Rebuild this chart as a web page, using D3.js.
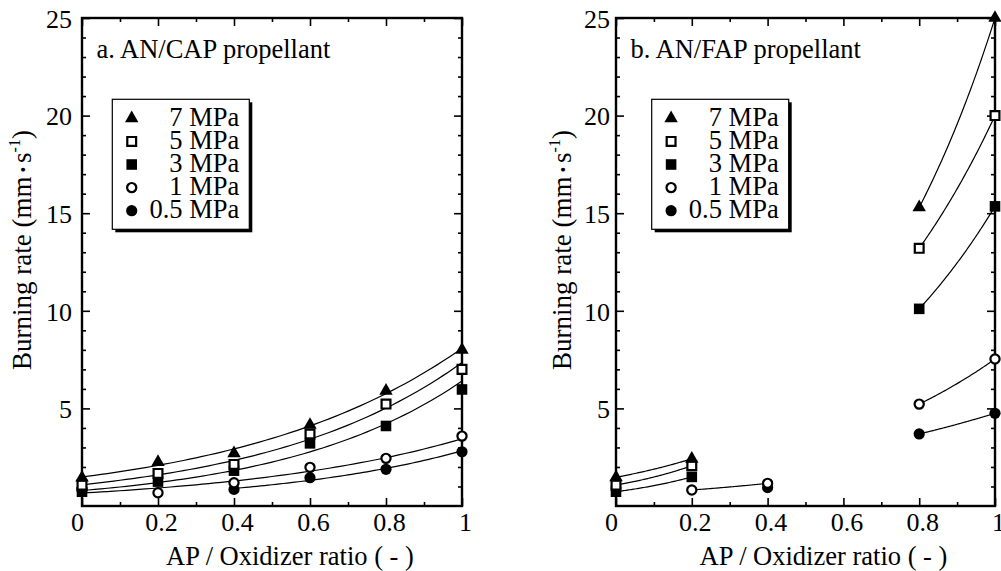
<!DOCTYPE html>
<html>
<head>
<meta charset="utf-8">
<script src="https://cdn.jsdelivr.net/npm/d3@7"></script>
<style>
  html, body { margin: 0; padding: 0; background: #fff; }
  svg { display: block; }
  text { font-family: "Liberation Serif", "Times New Roman", serif; fill: #000; }
</style>
</head>
<body>
<svg id="chart" width="1001" height="571"></svg>
<script>
// AP / oxidizer ratio at which burning rates were measured
const ratios = [0, 0.2, 0.4, 0.6, 0.8, 1.0];

// Pressure levels and their marker styles
const pressures = ["7 MPa", "5 MPa", "3 MPa", "1 MPa", "0.5 MPa"];
const markers = ["triangle", "openSquare", "square", "openCircle", "circle"];

// Burning rate (mm/s), AN/CAP propellant
const cap7 = [1.45, 2.25, 2.7, 4.15, 5.9, 8.0];
const cap5 = [1.07, 1.67, 2.13, 3.69, 5.22, 7.0];
const cap3 = [0.73, 1.25, 1.81, 3.21, 4.1, 5.97];
const cap1 = [0.85, 0.68, 1.19, 1.98, 2.44, 3.58];
const cap05 = [null, null, 0.85, 1.45, 1.88, 2.78];

// Burning rate (mm/s), AN/FAP propellant
const fap7 = [1.47, 2.42, null, null, 15.3, 25.0];
const fap5 = [1.07, 2.06, null, null, 13.2, 20.0];
const fap3 = [0.73, 1.49, null, null, 10.1, 15.35];
const fap1 = [null, 0.82, 1.16, null, 5.22, 7.53];
const fap05 = [null, null, 0.94, null, 3.69, 4.75];

// Axis ticks
const xMajor = [0, 0.2, 0.4, 0.6, 0.8, 1];
const xMinor = [0.1, 0.3, 0.5, 0.7, 0.9];
const yMajor = [5, 10, 15, 20, 25];
const yLabelled = [5, 10, 15, 20, 25];
const yMinor = d3.range(1, 25).filter(v => v % 5 !== 0);

const xTitle = "AP / Oxidizer ratio ( - )";

const panels = [
  {
    title: "a. AN/CAP propellant",
    series: [cap7, cap5, cap3, cap1, cap05],
    left: 82, right: 462, top: 18, bottom: 506,
    yLabelPad: 10, yTitleX: 30.7,
    legend: { x: 112.3, y: 99.3, w: 137, h: 130 }
  },
  {
    title: "b. AN/FAP propellant",
    series: [fap7, fap5, fap3, fap1, fap05],
    left: 616, right: 995, top: 18, bottom: 506,
    yLabelPad: 6, yTitleX: 570.7,
    legend: { x: 651.7, y: 99.3, w: 137, h: 130 }
  }
];

const svg = d3.select("#chart");

// Marker shapes
function drawMarker(sel, kind) {
  const sym = d3.symbol();
  if (kind === "triangle") {
    sel.append("path").attr("d", sym.type(d3.symbolTriangle).size(78)()).attr("fill", "#000");
  } else if (kind === "square") {
    sel.append("path").attr("d", sym.type(d3.symbolSquare).size(112)()).attr("fill", "#000");
  } else if (kind === "openSquare") {
    sel.append("path").attr("d", sym.type(d3.symbolSquare).size(78)())
      .attr("fill", "#fff").attr("stroke", "#000").attr("stroke-width", 2.2);
  } else if (kind === "circle") {
    sel.append("circle").attr("r", 5.6).attr("fill", "#000");
  } else if (kind === "openCircle") {
    sel.append("circle").attr("r", 4.6).attr("fill", "#fff")
      .attr("stroke", "#000").attr("stroke-width", 2.2);
  }
}

// Split a series into runs of consecutive measured points
function segments(values) {
  const out = [];
  let cur = [];
  values.forEach((v, i) => {
    if (v == null) { if (cur.length) out.push(cur); cur = []; }
    else cur.push([ratios[i], v]);
  });
  if (cur.length) out.push(cur);
  return out;
}

// Least-squares exponential fit r = a*exp(b*x) over a run of points
function expFit(pts) {
  const n = pts.length;
  const mx = d3.mean(pts, p => p[0]);
  const my = d3.mean(pts, p => Math.log(p[1]));
  let sxy = 0, sxx = 0;
  pts.forEach(p => { sxy += (p[0] - mx) * (Math.log(p[1]) - my); sxx += (p[0] - mx) ** 2; });
  const b = sxx > 0 ? sxy / sxx : 0;
  const lnA = my - b * mx;
  return x => Math.exp(lnA + b * x);
}

panels.forEach(p => {
  const x = d3.scaleLinear().domain([0, 1]).range([p.left, p.right]);
  const y = d3.scaleLinear().domain([0, 25]).range([p.bottom, p.top]);
  const g = svg.append("g");

  // Ticks on all four sides, pointing inward
  const tickStyle = s => {
    s.select(".domain").remove();
    s.selectAll(".tick line").attr("stroke", "#000").attr("stroke-width", 1.6);
  };

  const bottomAxis = g.append("g").attr("transform", `translate(0,${p.bottom})`)
    .call(d3.axisBottom(x).tickValues(xMajor).tickSize(-8).tickPadding(7)
      .tickFormat(d => String(d)))
    .call(tickStyle);
  bottomAxis.selectAll(".tick text")
    .attr("font-size", 26)
    .attr("dx", d => d === 0 ? -5 : 3);
  g.append("g").attr("transform", `translate(0,${p.bottom})`)
    .call(d3.axisBottom(x).tickValues(xMinor).tickSize(-4).tickFormat("")).call(tickStyle);

  g.append("g").attr("transform", `translate(0,${p.top})`)
    .call(d3.axisTop(x).tickValues(xMajor).tickSize(-8).tickFormat("")).call(tickStyle);
  g.append("g").attr("transform", `translate(0,${p.top})`)
    .call(d3.axisTop(x).tickValues(xMinor).tickSize(-4).tickFormat("")).call(tickStyle);

  const leftAxis = g.append("g").attr("transform", `translate(${p.left},0)`)
    .call(d3.axisLeft(y).tickValues(yLabelled).tickSize(-8).tickPadding(p.yLabelPad)
      .tickFormat(d => String(d)))
    .call(tickStyle);
  leftAxis.selectAll(".tick text").attr("font-size", 26).attr("dy", "0.36em");
  g.append("g").attr("transform", `translate(${p.left},0)`)
    .call(d3.axisLeft(y).tickValues(yMinor).tickSize(-4).tickFormat("")).call(tickStyle);

  g.append("g").attr("transform", `translate(${p.right},0)`)
    .call(d3.axisRight(y).tickValues(yMajor).tickSize(-8).tickFormat("")).call(tickStyle);
  g.append("g").attr("transform", `translate(${p.right},0)`)
    .call(d3.axisRight(y).tickValues(yMinor).tickSize(-4).tickFormat("")).call(tickStyle);

  // Plot frame
  g.append("rect")
    .attr("x", p.left).attr("y", p.top)
    .attr("width", p.right - p.left).attr("height", p.bottom - p.top)
    .attr("fill", "none").attr("stroke", "#000").attr("stroke-width", 2.4);

  // Axis titles
  g.append("text")
    .attr("x", (p.left + p.right) / 2 + 18).attr("y", 565)
    .attr("text-anchor", "middle").attr("font-size", 26.5)
    .text(xTitle);

  const yt = g.append("text")
    .attr("transform", `translate(${p.yTitleX},250) rotate(-90)`)
    .attr("text-anchor", "middle").attr("font-size", 27);
  yt.append("tspan").text("Burning rate (mm");
  yt.append("tspan").attr("font-size", 16).attr("dy", -2).text(" \u2022 ");
  yt.append("tspan").attr("dy", 2).text("s");
  yt.append("tspan").attr("font-size", 16).attr("dy", -11).text("-1");
  yt.append("tspan").attr("dy", 11).text(")");

  // Panel title
  g.append("text")
    .attr("x", p.left + 14.5).attr("y", 57.5)
    .attr("font-size", 26.5)
    .text(p.title);

  // Fitted curves
  const line = d3.line().x(d => x(d[0])).y(d => y(d[1])).curve(d3.curveLinear);
  p.series.forEach(vals => {
    segments(vals).forEach(seg => {
      if (seg.length < 2) return;
      const f = expFit(seg);
      const x0 = seg[0][0], x1 = seg[seg.length - 1][0];
      const pts = d3.range(0, 61).map(i => {
        const xv = x0 + (x1 - x0) * i / 60;
        return [xv, f(xv)];
      });
      g.append("path").attr("d", line(pts))
        .attr("fill", "none").attr("stroke", "#000").attr("stroke-width", 1.2);
    });
  });

  // Markers, lowest pressure first so higher pressures sit on top
  for (let s = p.series.length - 1; s >= 0; s--) {
    p.series[s].forEach((v, i) => {
      if (v == null) return;
      const m = g.append("g").attr("transform", `translate(${x(ratios[i])},${y(v)})`);
      drawMarker(m, markers[s]);
    });
  }

  // Legend box with drop shadow
  const L = p.legend;
  g.append("rect").attr("x", L.x + 3).attr("y", L.y + 3).attr("width", L.w).attr("height", L.h)
    .attr("fill", "#000");
  g.append("rect").attr("x", L.x).attr("y", L.y).attr("width", L.w).attr("height", L.h)
    .attr("fill", "#fff").attr("stroke", "#000").attr("stroke-width", 1.2);
  pressures.forEach((name, i) => {
    const cy = L.y + 19 + i * 23.1;
    const m = g.append("g").attr("transform", `translate(${L.x + 19.4},${cy})`);
    drawMarker(m, markers[i]);
    g.append("text")
      .attr("x", L.x + L.w - 10).attr("y", cy + 7.5)
      .attr("text-anchor", "end").attr("font-size", 26.5)
      .text(name);
  });
});
</script>
</body>
</html>
